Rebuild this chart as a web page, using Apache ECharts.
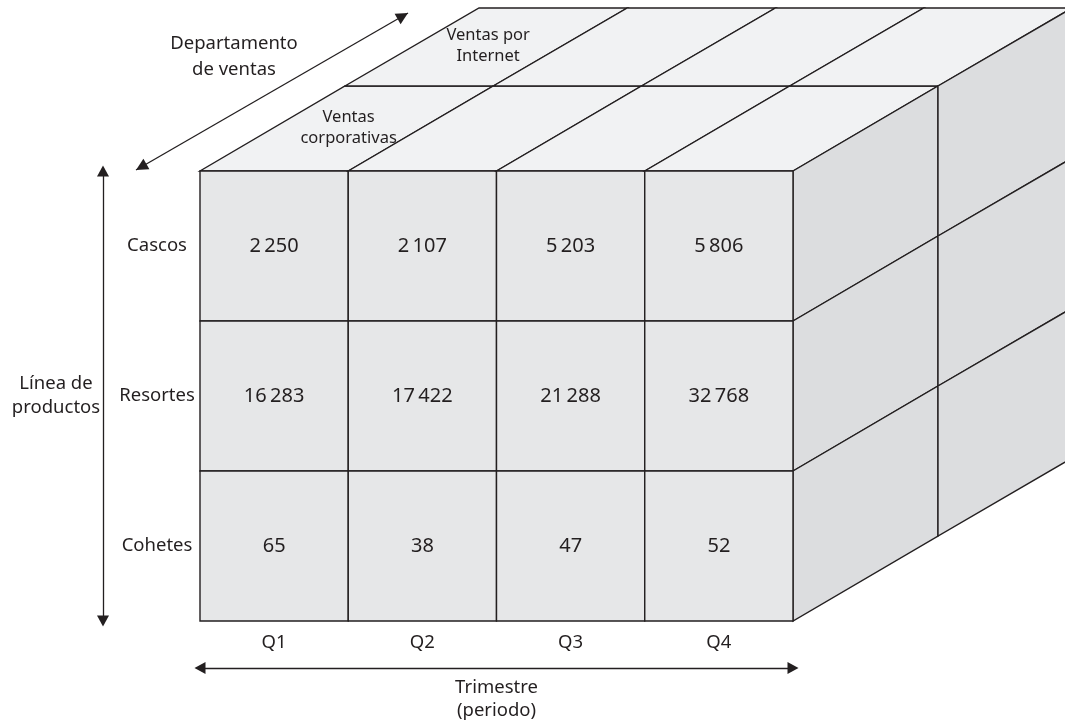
<!DOCTYPE html>
<html>
<head>
<meta charset="utf-8">
<script src="https://cdn.jsdelivr.net/npm/echarts@6/dist/echarts.min.js"></script>
<style>
html,body{margin:0;padding:0;background:#fff;}
#chart{width:1065px;height:727px;}
</style>
</head>
<body>
<div id="chart"></div>
<script>
// ---- data ----
const quarters = ['Q1', 'Q2', 'Q3', 'Q4'];
const products = ['Cascos', 'Resortes', 'Cohetes'];
const departments = ['Ventas\ncorporativas', 'Ventas por\nInternet'];
const corporateSales = [
  [2250, 2107, 5203, 5806],
  [16283, 17422, 21288, 32768],
  [65, 38, 47, 52]
];
const quarterAxisTitle = 'Trimestre\n(periodo)';
const productAxisTitle = 'Línea de\nproductos';
const departmentAxisTitle = 'Departamento\nde ventas';

// ---- style / projection constants ----
const FONT = 'Noto Sans';
const INK = '#231f20';
const FRONT = '#e6e7e8';
const TOP = '#f1f2f3';
const SIDE = '#dcdddf';
const LW = 1.4;
// oblique depth offsets of the slice boundaries (front, middle, back)
const SLICE = [[0, 0], [145, -85], [279, -163]];

function fmt(n) {
  return String(n).replace(/\B(?=(\d{3})+(?!\d))/g, '\u2009');
}

const cells = [];
products.forEach((p, pi) => {
  quarters.forEach((q, qi) => {
    cells.push([qi, pi, corporateSales[pi][qi]]);
  });
});

function poly(points, fill) {
  return {
    type: 'polygon',
    shape: { points: points },
    style: { fill: fill, stroke: INK, lineWidth: LW, lineJoin: 'miter' }
  };
}

function renderItem(params, api) {
  const qi = api.value(0), pi = api.value(1), v = api.value(2);
  const c = api.coord([qi, pi]);
  const s = api.size([1, 1]);
  const x0 = c[0] - s[0] / 2, x1 = c[0] + s[0] / 2;
  const y0 = c[1] - s[1] / 2, y1 = c[1] + s[1] / 2;
  const children = [];
  // top faces
  if (pi === 0) {
    for (let d = 0; d < departments.length; d++) {
      const a = SLICE[d], b = SLICE[d + 1];
      children.push(poly([
        [x0 + a[0], y0 + a[1]], [x1 + a[0], y0 + a[1]],
        [x1 + b[0], y0 + b[1]], [x0 + b[0], y0 + b[1]]
      ], TOP));
      if (qi === 0) {
        children.push({
          type: 'text',
          style: {
            text: departments[d],
            x: (x0 + x1) / 2 + (a[0] + b[0]) / 2 + 2,
            y: y0 + (a[1] + b[1]) / 2 - 1,
            align: 'center', verticalAlign: 'middle',
            fill: INK, font: '16.5px "' + FONT + '"', lineHeight: 21
          }
        });
      }
    }
  }
  // right faces
  if (qi === quarters.length - 1) {
    for (let d = 0; d < departments.length; d++) {
      const a = SLICE[d], b = SLICE[d + 1];
      children.push(poly([
        [x1 + a[0], y0 + a[1]], [x1 + b[0], y0 + b[1]],
        [x1 + b[0], y1 + b[1]], [x1 + a[0], y1 + a[1]]
      ], SIDE));
    }
  }
  // front face cell with its value
  children.push({
    type: 'rect',
    shape: { x: x0, y: y0, width: x1 - x0, height: y1 - y0 },
    style: { fill: FRONT, stroke: INK, lineWidth: LW }
  });
  children.push({
    type: 'text',
    style: {
      text: fmt(v), x: c[0], y: c[1],
      align: 'center', verticalAlign: 'middle',
      fill: INK, font: '20px "' + FONT + '"'
    }
  });
  // department (depth) arrow and its title
  if (qi === 0 && pi === 0) {
    const sx = x0 - 64, sy = y0 - 1;
    const ex = sx + SLICE[2][0] - 7, ey = sy + SLICE[2][1] + 6;
    const ang = Math.atan2(ey - sy, ex - sx);
    const head = (px, py, dir) => {
      const L = 12, W = 6;
      const ux = Math.cos(dir), uy = Math.sin(dir);
      return {
        type: 'polygon',
        shape: { points: [[px, py], [px - ux * L - uy * W, py - uy * L + ux * W], [px - ux * L + uy * W, py - uy * L - ux * W]] },
        style: { fill: INK }
      };
    };
    children.push({
      type: 'line',
      shape: { x1: sx, y1: sy, x2: ex, y2: ey },
      style: { stroke: INK, lineWidth: 1.3 }
    });
    children.push(head(ex, ey, ang));
    children.push(head(sx, sy, ang + Math.PI));
    children.push({
      type: 'text',
      style: {
        text: departmentAxisTitle,
        x: x0 + 34, y: y0 - 114,
        align: 'center', verticalAlign: 'middle',
        fill: INK, font: '18.5px "' + FONT + '"', lineHeight: 26
      }
    });
  }
  return { type: 'group', children: children };
}

const chart = echarts.init(document.getElementById('chart'), null, { renderer: 'canvas' });
const arrowLine = { show: true, symbol: ['triangle', 'triangle'], symbolSize: [12, 11], lineStyle: { color: INK, width: 1.3 } };

chart.setOption({
  backgroundColor: '#ffffff',
  animation: false,
  textStyle: { fontFamily: FONT },
  grid: { left: 200, top: 171, right: 272, bottom: 103, containLabel: false },
  xAxis: [
    {
      type: 'category', data: quarters, gridIndex: 0, position: 'bottom',
      axisLine: { show: false }, axisTick: { show: false }, splitLine: { show: false },
      axisLabel: { margin: 12, fontSize: 18.5, color: INK, fontFamily: FONT }
    },
    {
      type: 'category', data: quarters, gridIndex: 0, position: 'bottom', offset: 47,
      axisLine: arrowLine, axisTick: { show: false }, axisLabel: { show: false }, splitLine: { show: false },
      name: quarterAxisTitle, nameLocation: 'middle', nameGap: 8,
      nameTextStyle: { fontSize: 18.5, color: INK, fontFamily: FONT, lineHeight: 23 }
    }
  ],
  yAxis: [
    {
      type: 'category', data: products, inverse: true, gridIndex: 0, position: 'left',
      axisLine: { show: false }, axisTick: { show: false }, splitLine: { show: false },
      axisLabel: { margin: 43, align: 'center', fontSize: 18.5, color: INK, fontFamily: FONT }
    },
    {
      type: 'category', data: products, inverse: true, gridIndex: 0, position: 'left', offset: 97,
      axisLine: arrowLine, axisTick: { show: false }, axisLabel: { show: false }, splitLine: { show: false },
      name: productAxisTitle, nameLocation: 'middle', nameRotate: 0, nameGap: 47,
      nameTextStyle: { fontSize: 18.5, color: INK, fontFamily: FONT, align: 'center', lineHeight: 24 }
    }
  ],
  series: [{
    type: 'custom',
    xAxisIndex: 0, yAxisIndex: 0,
    clip: false,
    renderItem: renderItem,
    data: cells,
    silent: true
  }]
});
</script>
</body>
</html>
